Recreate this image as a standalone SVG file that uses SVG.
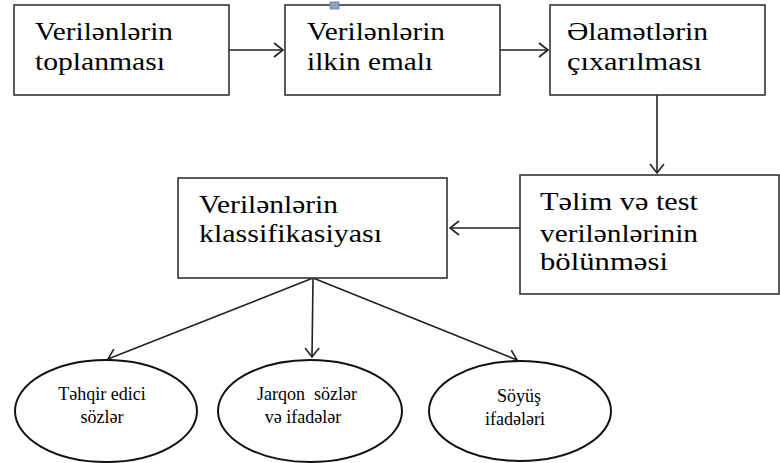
<svg xmlns="http://www.w3.org/2000/svg" width="780" height="463" viewBox="0 0 780 463">
<style>
.box{fill:#fff;stroke:#333;stroke-width:1.6}
.ell{fill:#fff;stroke:#111;stroke-width:2}
.c{fill:none;stroke:#222;stroke-width:1.6}
</style>
<defs>
<marker id="arr" markerUnits="userSpaceOnUse" markerWidth="20" markerHeight="20" refX="10" refY="10" orient="auto">
<path d="M1,3 L10,10 L1,17" fill="none" stroke="#222" stroke-width="1.6"/>
</marker>
</defs>
<rect width="780" height="463" fill="#fff"/>
<g id="connectors">
<line class="c" x1="229" y1="50" x2="283" y2="50" marker-end="url(#arr)"/>
<line class="c" x1="500" y1="50" x2="548" y2="50" marker-end="url(#arr)"/>
<line class="c" x1="657" y1="95" x2="657" y2="173" marker-end="url(#arr)"/>
<line class="c" x1="520" y1="228" x2="450" y2="228" marker-end="url(#arr)"/>
<line class="c" x1="313" y1="278" x2="108" y2="359" marker-end="url(#arr)"/>
<line class="c" x1="313" y1="278" x2="312" y2="357" marker-end="url(#arr)"/>
<line class="c" x1="313" y1="278" x2="517" y2="360" marker-end="url(#arr)"/>
</g>
<g id="n1">
<rect class="box" x="14" y="5" width="215" height="90"/>
<text x="35" y="40" font-family="Liberation Serif, serif" font-size="26" textLength="138" lengthAdjust="spacingAndGlyphs">Verilənlərin</text>
<text x="35" y="70" font-family="Liberation Serif, serif" font-size="26" textLength="130" lengthAdjust="spacingAndGlyphs">toplanması</text>
</g>
<g id="n2">
<rect class="box" x="285" y="5" width="215" height="90"/>
<rect x="330" y="2" width="9" height="7" fill="#8da2c4" stroke="#6a7fa6" stroke-width="0.8"/>
<text x="307" y="40" font-family="Liberation Serif, serif" font-size="26" textLength="138" lengthAdjust="spacingAndGlyphs">Verilənlərin</text>
<text x="307" y="70" font-family="Liberation Serif, serif" font-size="26" textLength="126" lengthAdjust="spacingAndGlyphs">ilkin emalı</text>
</g>
<g id="n3">
<rect class="box" x="550" y="5" width="215" height="90"/>
<text x="567" y="40" font-family="Liberation Serif, serif" font-size="26" textLength="141" lengthAdjust="spacingAndGlyphs">Əlamətlərin</text>
<text x="567" y="70" font-family="Liberation Serif, serif" font-size="26" textLength="135" lengthAdjust="spacingAndGlyphs">çıxarılması</text>
</g>
<g id="n4">
<rect class="box" x="520" y="175" width="259" height="119"/>
<text x="540" y="210" font-family="Liberation Serif, serif" font-size="26" textLength="158" lengthAdjust="spacingAndGlyphs">Təlim və test</text>
<text x="540" y="242" font-family="Liberation Serif, serif" font-size="26" textLength="158" lengthAdjust="spacingAndGlyphs">verilənlərinin</text>
<text x="540" y="270" font-family="Liberation Serif, serif" font-size="26" textLength="128" lengthAdjust="spacingAndGlyphs">bölünməsi</text>
</g>
<g id="n5">
<rect class="box" x="178" y="178" width="269" height="100"/>
<text x="199" y="213" font-family="Liberation Serif, serif" font-size="26" textLength="139" lengthAdjust="spacingAndGlyphs">Verilənlərin</text>
<text x="199" y="242" font-family="Liberation Serif, serif" font-size="26" textLength="183" lengthAdjust="spacingAndGlyphs">klassifikasiyası</text>
</g>
<g id="e1">
<ellipse class="ell" cx="106" cy="411" rx="91" ry="51"/>
<text x="102" y="400" font-family="Liberation Serif, serif" font-size="18" text-anchor="middle">Təhqir edici</text>
<text x="102" y="423" font-family="Liberation Serif, serif" font-size="18" text-anchor="middle">sözlər</text>
</g>
<g id="e2">
<ellipse class="ell" cx="310" cy="411" rx="92" ry="51"/>
<text x="307" y="400" font-family="Liberation Serif, serif" font-size="18" text-anchor="middle">Jarqon&#160; sözlər</text>
<text x="303" y="423" font-family="Liberation Serif, serif" font-size="18" text-anchor="middle">və ifadələr</text>
</g>
<g id="e3">
<ellipse class="ell" cx="520" cy="411" rx="91" ry="50"/>
<text x="519" y="402" font-family="Liberation Serif, serif" font-size="18" text-anchor="middle">Söyüş</text>
<text x="515" y="425" font-family="Liberation Serif, serif" font-size="18" text-anchor="middle">ifadələri</text>
</g>
</svg>
